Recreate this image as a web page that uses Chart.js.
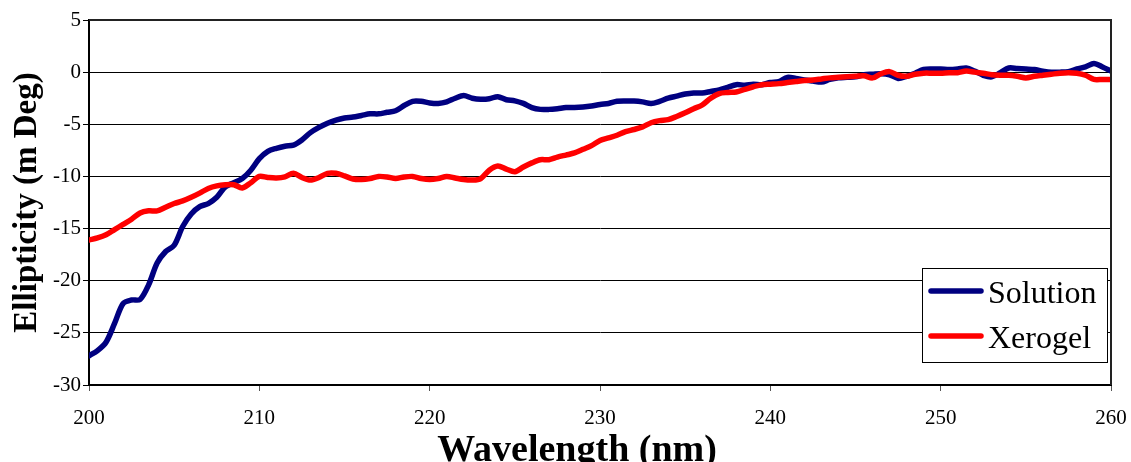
<!DOCTYPE html>
<html>
<head>
<meta charset="utf-8">
<script src="https://cdn.jsdelivr.net/npm/chart.js@4"></script>
<style>
  html, body { margin: 0; padding: 0; background: #fff; }
  canvas { display: block; }
</style>
</head>
<body>
<canvas id="cdChart" width="1131" height="462"></canvas>
<script>
const wavelength = [
  200, 200.5, 201, 201.5, 202, 202.5, 203, 203.5, 204, 204.5,
  205, 205.5, 206, 206.5, 207, 207.5, 208, 208.5, 209, 209.5,
  210, 210.5, 211, 211.5, 212, 212.5, 213, 213.5, 214, 214.5,
  215, 215.5, 216, 216.5, 217, 217.5, 218, 218.5, 219, 219.5,
  220, 220.5, 221, 221.5, 222, 222.5, 223, 223.5, 224, 224.5,
  225, 225.5, 226, 226.5, 227, 227.5, 228, 228.5, 229, 229.5,
  230, 230.5, 231, 231.5, 232, 232.5, 233, 233.5, 234, 234.5,
  235, 235.5, 236, 236.5, 237, 237.5, 238, 238.5, 239, 239.5,
  240, 240.5, 241, 241.5, 242, 242.5, 243, 243.5, 244, 244.5,
  245, 245.5, 246, 246.5, 247, 247.5, 248, 248.5, 249, 249.5,
  250, 250.5, 251, 251.5, 252, 252.5, 253, 253.5, 254, 254.5,
  255, 255.5, 256, 256.5, 257, 257.5, 258, 258.5, 259, 259.5,
  260
];

const solution = [
  -27.2, -26.7, -25.9, -24.1, -22.2, -21.85, -21.8, -20.4, -18.3, -17.2,
  -16.6, -14.8, -13.6, -12.9, -12.6, -12.0, -11.0, -10.6, -10.2, -9.4,
  -8.3, -7.6, -7.3, -7.1, -7.0, -6.5, -5.8, -5.3, -4.9, -4.6,
  -4.4, -4.3, -4.15, -4.0, -4.0, -3.85, -3.7, -3.2, -2.8, -2.8,
  -2.95, -3.0, -2.85, -2.5, -2.25, -2.5, -2.6, -2.55, -2.35, -2.65,
  -2.75, -3.0, -3.4, -3.57, -3.57, -3.5, -3.4, -3.4, -3.35, -3.25,
  -3.1, -3.0, -2.8, -2.77, -2.77, -2.85, -3.0, -2.8, -2.5, -2.3,
  -2.1, -2.0, -2.0, -1.85, -1.7, -1.45, -1.2, -1.25, -1.15, -1.2,
  -1.0, -0.9, -0.5, -0.6, -0.75, -0.85, -0.95, -0.7, -0.55, -0.5,
  -0.45, -0.25, -0.2, -0.15, -0.25, -0.6, -0.4, -0.1, 0.25, 0.3,
  0.3, 0.25, 0.3, 0.4, 0.1, -0.3, -0.45, -0.05, 0.4, 0.35,
  0.3, 0.25, 0.1, 0.0, 0.0, 0.05, 0.3, 0.5, 0.83, 0.5,
  0.1
];

const xerogel = [
  -16.1, -15.9, -15.6, -15.1, -14.6, -14.1, -13.5, -13.3, -13.3, -12.95,
  -12.6, -12.35, -12.0, -11.6, -11.15, -10.9, -10.8, -10.8, -11.1, -10.6,
  -10.0, -10.1, -10.15, -10.05, -9.7, -10.1, -10.35, -10.1, -9.7, -9.7,
  -9.95, -10.25, -10.3, -10.2, -10.0, -10.05, -10.2, -10.05, -10.0, -10.2,
  -10.3, -10.2, -10.0, -10.15, -10.3, -10.35, -10.2, -9.4, -9.0, -9.3,
  -9.55, -9.1, -8.7, -8.4, -8.4, -8.15, -7.95, -7.75, -7.4, -7.05,
  -6.55, -6.3, -6.05, -5.7, -5.5, -5.25, -4.85, -4.65, -4.55, -4.25,
  -3.9, -3.5, -3.15, -2.5, -2.05, -1.95, -1.9, -1.65, -1.4, -1.2,
  -1.15, -1.1, -1.0, -0.9, -0.8, -0.75, -0.65, -0.55, -0.5, -0.45,
  -0.4, -0.35, -0.55, -0.15, 0.05, -0.3, -0.4, -0.2, -0.1, -0.1,
  -0.1, -0.05, -0.05, 0.1, 0.0, -0.1, -0.25, -0.3, -0.3, -0.4,
  -0.55, -0.4, -0.3, -0.2, -0.1, -0.05, -0.1, -0.3, -0.7, -0.7,
  -0.7
];

const xTicks = [200, 210, 220, 230, 240, 250, 260];
const yTicks = [5, 0, -5, -10, -15, -20, -25, -30];

const SERIF = '"Liberation Serif", "Times New Roman", serif';

const toPoints = ys => wavelength.map((x, i) => ({ x: x, y: ys[i] }));

// frame on top/right, boxed legend and the two axis titles
const decorations = {
  id: 'decorations',
  afterDraw(chart) {
    const { ctx, chartArea: a } = chart;
    ctx.save();

    ctx.strokeStyle = '#222';
    ctx.lineWidth = 2;
    ctx.beginPath();
    ctx.moveTo(a.left, a.top);
    ctx.lineTo(a.right, a.top);
    ctx.lineTo(a.right, a.bottom);
    ctx.stroke();

    // legend box
    const bx = 922, by = 268, bw = 185, bh = 94;
    ctx.fillStyle = '#fff';
    ctx.fillRect(bx, by, bw, bh);
    ctx.strokeStyle = '#000';
    ctx.lineWidth = 1;
    ctx.strokeRect(bx + 0.5, by + 0.5, bw, bh);
    const rows = [291, 336];
    chart.data.datasets.forEach((ds, i) => {
      const y = rows[i];
      ctx.strokeStyle = ds.borderColor;
      ctx.lineWidth = 5.5;
      ctx.lineCap = 'round';
      ctx.beginPath();
      ctx.moveTo(931, y);
      ctx.lineTo(981, y);
      ctx.stroke();
      ctx.fillStyle = '#000';
      ctx.font = '32px ' + SERIF;
      ctx.textAlign = 'left';
      ctx.textBaseline = 'alphabetic';
      ctx.fillText(ds.label, 988, y + 12);
    });

    // axis titles
    ctx.fillStyle = '#000';
    ctx.font = 'bold 38px ' + SERIF;
    ctx.textAlign = 'center';
    ctx.textBaseline = 'alphabetic';
    ctx.fillText('Wavelength (nm)', 577, 461);

    ctx.translate(36, (a.top + a.bottom) / 2);
    ctx.rotate(-Math.PI / 2);
    ctx.font = 'bold 33px ' + SERIF;
    ctx.fillText('Ellipticity (m Deg)', 0, 0);
    ctx.restore();
  }
};

const ctx = document.getElementById('cdChart').getContext('2d');

const cdChart = new Chart(ctx, {
  type: 'line',
  data: {
    datasets: [
      {
        label: 'Solution',
        data: toPoints(solution),
        borderColor: '#000080',
        borderWidth: 5.5,
        order: 1
      },
      {
        label: 'Xerogel',
        data: toPoints(xerogel),
        borderColor: '#ff0000',
        borderWidth: 5.5,
        order: 0
      }
    ]
  },
  options: {
    responsive: false,
    animation: false,
    devicePixelRatio: 1,
    layout: { padding: { left: 0, right: 20, top: 20, bottom: 0 } },
    elements: {
      point: { radius: 0 },
      line: { tension: 0.3, borderJoinStyle: 'round', borderCapStyle: 'round' }
    },
    plugins: {
      legend: { display: false },
      tooltip: { enabled: false }
    },
    scales: {
      x: {
        type: 'linear',
        min: 200,
        max: 260,
        afterFit: s => {
          s.height = 77;
          s.paddingLeft = 0;
          s.paddingRight = 0;
        },
        afterBuildTicks: s => { s.ticks = xTicks.map(v => ({ value: v })); },
        grid: { drawOnChartArea: false, drawTicks: true, tickLength: 6, color: '#555' },
        border: { color: '#000', width: 2 },
        ticks: {
          color: '#000',
          padding: 15,
          maxRotation: 0,
          font: { family: SERIF, size: 21 }
        }
      },
      y: {
        min: -30,
        max: 5,
        afterFit: s => {
          s.width = 89;
          s.paddingTop = 0;
          s.paddingBottom = 0;
        },
        afterBuildTicks: s => { s.ticks = yTicks.map(v => ({ value: v })); },
        grid: { color: '#000', lineWidth: 1, tickLength: 6 },
        border: { color: '#000', width: 2 },
        ticks: {
          color: '#000',
          padding: 2,
          font: { family: SERIF, size: 21 }
        }
      }
    }
  },
  plugins: [decorations]
});
</script>
</body>
</html>
